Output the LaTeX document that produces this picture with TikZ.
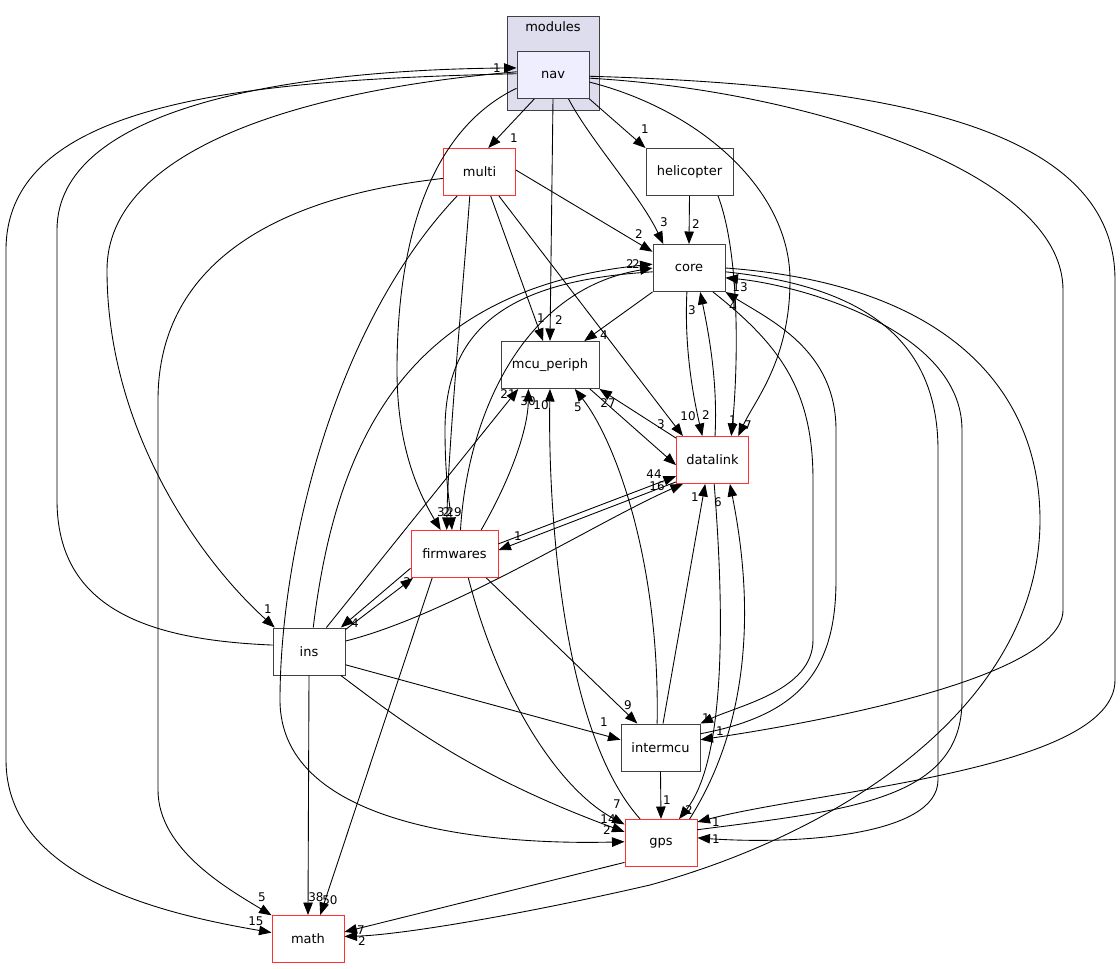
\documentclass[tikz,border=0pt]{standalone}
\usepackage{fontspec}
\setmainfont{DejaVu Sans}
\usetikzlibrary{arrows.meta}
\definecolor{dirred}{RGB}{255,50,50}
\definecolor{clusterfill}{RGB}{221,221,238}
\definecolor{navfill}{RGB}{238,238,255}
\tikzset{
  dirbox/.style={draw=black!75, line width=0.55pt, fill=white, minimum width=1.44cm, minimum height=0.94cm, inner sep=0pt, font=\fontsize{7.4}{9}\selectfont},
  reddir/.style={dirbox, draw=dirred},
  clusterbox/.style={draw=black!75, line width=0.55pt, fill=clusterfill, minimum width=1.84cm, minimum height=1.88cm},
  dep/.style={-{Triangle[length=2.5mm,width=1.9mm]}, line width=0.5pt},
  lbl/.style={font=\fontsize{6.8}{8}\selectfont, inner sep=0pt}
}
\begin{document}
\begin{tikzpicture}[x=0.02cm,y=-0.02cm]
\useasboundingbox (0,0) rectangle (1120,969);
% directories
\node[clusterbox] (modules) at (553,63) {};
\node[font=\fontsize{7.4}{9}\selectfont] (modlbl) at (553,27) {modules};
\node[dirbox, fill=navfill] (nav) at (553,75) {nav};
\node[reddir] (multi) at (479.5,172) {multi};
\node[dirbox, minimum width=1.74cm] (helicopter) at (689.5,172) {helicopter};
\node[dirbox] (core) at (689,268) {core};
\node[dirbox, minimum width=1.96cm] (mcuperiph) at (550,365) {mcu\_periph};
\node[reddir] (datalink) at (712.5,460) {datalink};
\node[reddir, minimum width=1.74cm] (firmwares) at (454.5,554) {firmwares};
\node[dirbox] (ins) at (309,651.5) {ins};
\node[dirbox, minimum width=1.58cm] (intermcu) at (660.5,747.5) {intermcu};
\node[reddir] (gps) at (661,843) {gps};
\node[reddir] (math) at (308,939) {math};
% nav
\draw[dep] (nav.-128) -- (multi.70) node[lbl] at (514,138) {1};
\draw[dep] (nav.south east) -- (helicopter.north west) node[lbl] at (645,129) {1};
\draw[dep] (nav.-57) .. controls (590,140) and (640,195) .. (core.137) node[lbl] at (664,222) {3};
\draw[dep] (nav.south) -- (mcuperiph.north) node[lbl] at (559,320) {2};
\draw[dep] (nav.-11) .. controls (700,110) and (790,190) .. (790,280) .. controls (790,360) and (755,400) .. (datalink.43) node[lbl] at (748,425) {7};
\draw[dep] (nav.-160) .. controls (430,130) and (397,240) .. (397,370) .. controls (397,450) and (420,495) .. (firmwares.120) node[lbl] at (441,512) {3};
\draw[dep] (nav.175) .. controls (300,90) and (107,150) .. (107,270) .. controls (107,430) and (200,560) .. (ins.145) node[lbl] at (268,609) {1};
\draw[dep] (nav.178) .. controls (250,80) and (6,100) .. (6,250) -- (6,760) .. controls (6,880) and (170,915) .. (math.170) node[lbl] at (256,921) {15};
\draw[dep] (nav.-5) .. controls (800,90) and (1063,170) .. (1063,290) -- (1063,610) .. controls (1063,680) and (800,725) .. (intermcu.11) node[lbl] at (720,731) {1};
\draw[dep] (nav.-2) .. controls (900,85) and (1115,130) .. (1115,280) -- (1115,680) .. controls (1115,770) and (820,790) .. (gps.30) node[lbl] at (716,822) {1};
% multi
\draw[dep] (multi.3) -- (core.156) node[lbl] at (639,234) {2};
\draw[dep] (multi.-65) -- (mcuperiph.106) node[lbl] at (541,318) {1};
\draw[dep] (multi.-51) -- (datalink.141) node[lbl] at (688,416) {10};
\draw[dep] (multi.-112) .. controls (462,300) and (448,450) .. (firmwares.108) node[lbl] at (446.5,512) {2};
\draw[dep] (multi.-170) .. controls (250,200) and (158,280) .. (158,400) -- (158,790) .. controls (158,850) and (230,890) .. (math.147) node[lbl] at (262,897) {5};
\draw[dep] (multi.-133) .. controls (330,330) and (280,560) .. (280,700) .. controls (280,830) and (500,845) .. (gps.178) node[lbl] at (607,830) {2};
% helicopter
\draw[dep] (helicopter.south) -- (core.north) node[lbl] at (696,224) {2};
\draw[dep] (helicopter.-40) .. controls (742,260) and (737,380) .. (datalink.52) node[lbl] at (733,420) {1};
% core
\draw[dep] (core.south west) -- (mcuperiph.35) node[lbl] at (604,335) {4};
\draw[dep] (core.-95) .. controls (684,350) and (694,400) .. (datalink.113) node[lbl] at (706,415) {2};
\draw[dep] (datalink.84) .. controls (718,380) and (708,330) .. (core.-65) node[lbl] at (692,310) {3};
\draw[dep] (core.-174) .. controls (520,280) and (445,320) .. (445,430) .. controls (445,480) and (450,505) .. (firmwares.96) node[lbl] at (454,512) {29};
\draw[dep] (firmwares.76) .. controls (467,420) and (520,290) .. (core.180) node[lbl] at (636,264) {2};
\draw[dep] (ins.80) .. controls (335,450) and (400,290) .. (core.174) node[lbl] at (630,264) {2};
\draw[dep] (core.-45) .. controls (780,345) and (813,390) .. (813,480) -- (813,640) .. controls (813,690) and (740,705) .. (intermcu.north east) node[lbl] at (706,718) {1};
\draw[dep] (intermcu.19) .. controls (800,715) and (836,670) .. (836,580) -- (836,430) .. controls (836,350) and (770,320) .. (core.south east) node[lbl] at (733,306) {4};
\draw[dep] (core.-6) .. controls (850,285) and (938,330) .. (938,450) -- (938,780) .. controls (938,835) and (800,845) .. (gps.8) node[lbl] at (716,839) {1};
\draw[dep] (gps.20) .. controls (850,810) and (962,800) .. (962,700) -- (962,430) .. controls (962,330) and (800,285) .. (core.-15) node[lbl] at (740,287) {13};
\draw[dep] (core.0) .. controls (960,285) and (1040,400) .. (1040,520) .. controls (1040,700) and (850,830) .. (650,885) .. controls (520,915) and (400,935) .. (math.4) node[lbl] at (362,941) {2};
% mcu_periph and datalink
\draw[dep] (mcuperiph.-31) -- (datalink.-172) node[lbl] at (661,424) {3};
\draw[dep] (datalink.149) -- (mcuperiph.south east) node[lbl] at (608,403) {27};
\draw[dep] (datalink.-149) -- (firmwares.5) node[lbl] at (518,536) {1};
\draw[dep] (datalink.-86) .. controls (725,620) and (725,760) .. (gps.53) node[lbl] at (689,810) {2};
% firmwares
\draw[dep] (firmwares.13) -- (datalink.-156) node[lbl] at (654,474) {44};
\draw[dep] (firmwares.-162) -- (ins.37) node[lbl] at (355,623) {4};
\draw[dep] (firmwares.42) .. controls (510,480) and (528,430) .. (mcuperiph.-132) node[lbl] at (528,401) {30};
\draw[dep] (firmwares.-37) -- (intermcu.134) node[lbl] at (628,705) {9};
\draw[dep] (firmwares.-60) .. controls (500,700) and (560,790) .. (gps.153) node[lbl] at (617,804) {7};
\draw[dep] (firmwares.-133) -- (math.63) node[lbl] at (330,900) {50};
% ins
\draw[dep] (ins.170) .. controls (150,640) and (57,610) .. (57,500) -- (57,230) .. controls (57,110) and (280,70) .. (nav.169) node[lbl] at (497,68) {1};
\draw[dep] (ins.31) -- (firmwares.-150) node[lbl] at (407,582) {3};
\draw[dep] (ins.54) -- (mcuperiph.-143) node[lbl] at (508,394) {21};
\draw[dep] (ins.16) .. controls (450,615) and (600,520) .. (datalink.-141) node[lbl] at (657,486) {16};
\draw[dep] (ins.-20) -- (intermcu.169) node[lbl] at (604,722) {1};
\draw[dep] (ins.-37) .. controls (400,720) and (470,775) .. (gps.163) node[lbl] at (608,819) {14};
\draw[dep] (ins.south) -- (math.north) node[lbl] at (316,897) {38};
% intermcu
\draw[dep] (intermcu.84) -- (datalink.-107) node[lbl] at (695,497) {1};
\draw[dep] (intermcu.98) .. controls (660,560) and (615,440) .. (mcuperiph.-44) node[lbl] at (578,407) {5};
\draw[dep] (intermcu.south) -- (gps.north) node[lbl] at (667,800) {1};
% gps
\draw[dep] (gps.40) .. controls (765,700) and (745,560) .. (datalink.-54) node[lbl] at (718,502) {6};
\draw[dep] (gps.131) .. controls (560,730) and (548,500) .. (mcuperiph.south) node[lbl] at (541,405) {10};
\draw[dep] (gps.-152) -- (math.11) node[lbl] at (361,930) {7};
\end{tikzpicture}
\end{document}
